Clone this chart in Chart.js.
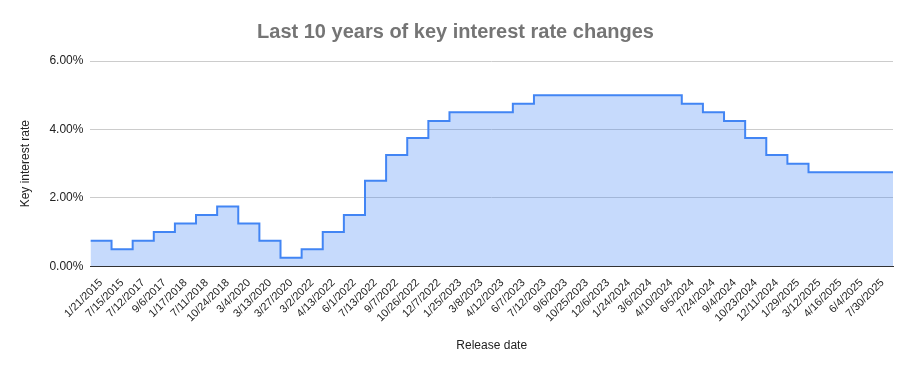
<!DOCTYPE html>
<html>
<head>
<meta charset="utf-8">
<script src="https://cdn.jsdelivr.net/npm/chart.js@4"></script>
<style>
  html, body { margin: 0; padding: 0; background: #fff; }
  #wrap { width: 913px; height: 371px; }
</style>
</head>
<body>
<div id="wrap"><canvas id="rates"></canvas></div>
<script>
// release dates (one per rate decision shown)
var releaseDates = ["1/21/2015", "7/15/2015", "7/12/2017", "9/6/2017", "1/17/2018", "7/11/2018",
    "10/24/2018", "3/4/2020", "3/13/2020", "3/27/2020", "3/2/2022", "4/13/2022", "6/1/2022",
    "7/13/2022", "9/7/2022", "10/26/2022", "12/7/2022", "1/25/2023", "3/8/2023", "4/12/2023",
    "6/7/2023", "7/12/2023", "9/6/2023", "10/25/2023", "12/6/2023", "1/24/2024", "3/6/2024",
    "4/10/2024", "6/5/2024", "7/24/2024", "9/4/2024", "10/23/2024", "12/11/2024", "1/29/2025",
    "3/12/2025", "4/16/2025", "6/4/2025", "7/30/2025"];

// key interest rate in %
var keyRate = [0.75, 0.5, 0.75, 1.0, 1.25, 1.5, 1.75, 1.25, 0.75, 0.25, 0.5, 1.0, 1.5,
    2.5, 3.25, 3.75, 4.25, 4.5, 4.5, 4.5, 4.75, 5.0, 5.0, 5.0, 5.0, 5.0, 5.0,
    5.0, 4.75, 4.5, 4.25, 3.75, 3.25, 3.0, 2.75, 2.75, 2.75, 2.75];

var yTicks = [0, 2, 4, 6];

// each rate holds for one category slot; the last one is closed at the right edge
var points = keyRate.map(function (v, i) { return { x: i, y: v }; });
points.push({ x: keyRate.length, y: keyRate[keyRate.length - 1] });

var ctx = document.getElementById('rates');

var ratesChart = new Chart(ctx, {
    type: 'line',
    data: {
        datasets: [{
            label: 'Key interest rate',
            data: points,
            stepped: true,
            fill: 'origin',
            borderColor: '#4285F4',
            backgroundColor: 'rgba(66,133,244,0.3)',
            borderWidth: 2,
            pointRadius: 0,
            pointHoverRadius: 0
        }]
    },
    options: {
        responsive: true,
        maintainAspectRatio: false,
        animation: false,
        layout: { padding: { left: 18, right: 20, top: 20, bottom: 18 } },
        plugins: {
            legend: { display: false },
            tooltip: { enabled: false },
            title: {
                display: true,
                text: 'Last 10 years of key interest rate changes',
                color: '#757575',
                font: { family: 'Arial, "Liberation Sans", sans-serif', size: 20, weight: 'bold' },
                padding: { top: 0, bottom: 17 }
            }
        },
        scales: {
            x: {
                type: 'linear',
                min: 0,
                max: keyRate.length,
                afterBuildTicks: function (scale) {
                    scale.ticks = releaseDates.map(function (d, i) { return { value: i + 0.5 }; });
                },
                ticks: {
                    autoSkip: false,
                    maxRotation: 45,
                    minRotation: 45,
                    padding: 2,
                    color: '#222',
                    font: { family: 'Arial, "Liberation Sans", sans-serif', size: 11 },
                    callback: function (value, index) { return releaseDates[index]; }
                },
                grid: { display: false },
                border: { color: '#333', width: 1 },
                title: {
                    display: true,
                    text: 'Release date',
                    color: '#222',
                    font: { family: 'Arial, "Liberation Sans", sans-serif', size: 12 },
                    padding: { top: 12, bottom: 0 }
                }
            },
            y: {
                min: 0,
                max: 6,
                afterBuildTicks: function (scale) {
                    scale.ticks = yTicks.map(function (v) { return { value: v }; });
                },
                ticks: {
                    color: '#222',
                    padding: 7,
                    font: { family: 'Arial, "Liberation Sans", sans-serif', size: 12 },
                    callback: function (value) { return value.toFixed(2) + '%'; }
                },
                grid: { color: '#cccccc', drawTicks: false },
                border: { display: false },
                title: {
                    display: true,
                    text: 'Key interest rate',
                    color: '#222',
                    font: { family: 'Arial, "Liberation Sans", sans-serif', size: 12 },
                    padding: { top: 0, bottom: 10 }
                }
            }
        }
    }
});
</script>
</body>
</html>
